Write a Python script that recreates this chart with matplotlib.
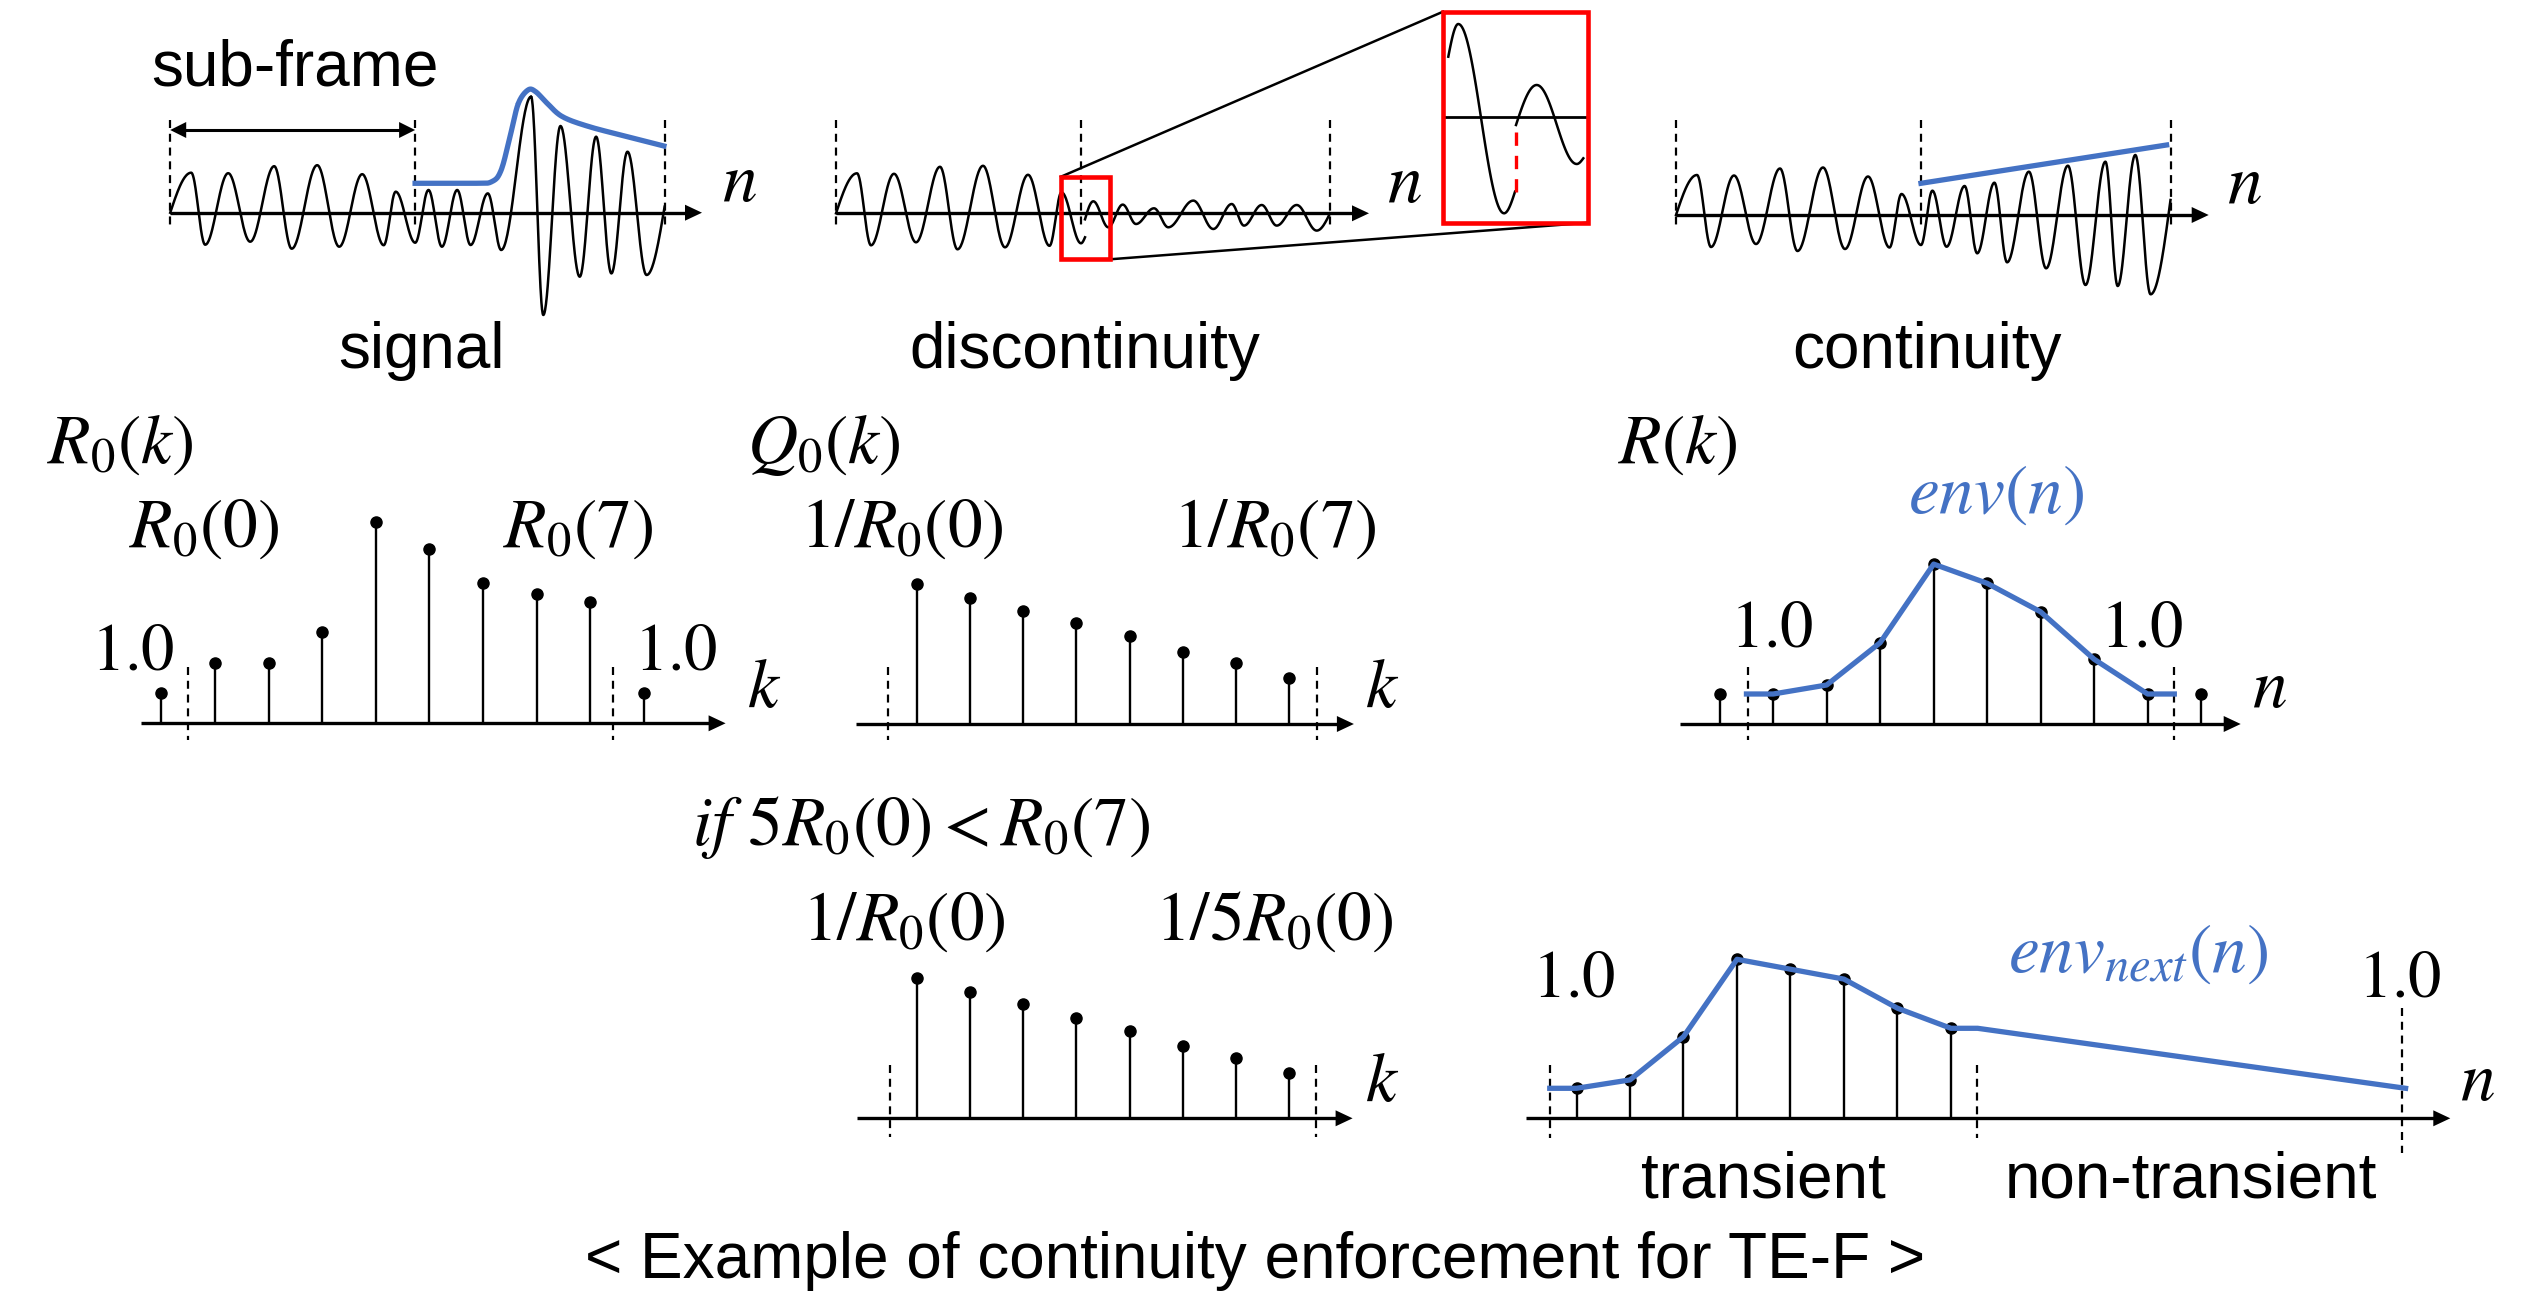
import numpy as np
import matplotlib
matplotlib.use('Agg')
import matplotlib.pyplot as plt
from matplotlib.patches import Rectangle, Polygon

plt.rcParams['mathtext.fontset'] = 'stix'
plt.rcParams['font.family'] = ['Liberation Sans', 'DejaVu Sans']

BLUE = '#4472C4'
RED = '#FF0000'

# ------------------------------------------------------------------ data
# waveform extrema: offset inside the frame, amplitude
wave_prev_t = [0, 21, 35, 58, 80, 104, 121.5, 147, 169, 192, 213.5, 225.5, 245]
wave_prev_a = [0, 40, -32, 39.5, -29, 46.5, -36, 47.5, -34, 38.5, -32.5, 21, -30]

sig_t = [258.3, 271.7, 287, 300.4, 317.6, 331, 360.9, 373.1, 390.3, 409.5, 425.9, 441.2, 457.3, 476.4, 494.4]
sig_a = [22.7, -34, 22.7, -32.3, 19.3, -37.3, 116, -102.3, 86.7, -64, 76, -60.7, 61, -62.3, 6]
sig_env_t = [244.9, 304.2, 321.5, 331, 340.6, 348.2, 357.8, 365.5, 377, 392.3, 419.1, 457.3, 493.7]
sig_env_a = [29.4, 29.4, 31, 42.7, 79.4, 109.4, 122.7, 121, 109.4, 96, 86, 76, 66.7]

disc_end_t, disc_end_a = 249, -24
disc_t = [249, 257.3, 272.3, 286.7, 300, 318, 332.3, 357.3, 377.3, 395.7, 408, 425.7, 440.7, 460.7, 480.7, 494]
disc_a = [-6, 12, -14, 8.7, -10.7, 5, -14, 12.7, -15.7, 9.3, -12.3, 8.3, -12.3, 8.3, -17.3, 0]

cont_t = [256.4, 270.6, 288.6, 301.2, 318.4, 331.1, 352.9, 370.1, 391.9, 409.5, 429.4, 441.7, 459.3, 474.6, 494.5]
cont_a = [24.3, -31.7, 29, -38.3, 32.3, -47.3, 43.3, -53.3, 49.3, -70, 53.3, -71, 60, -79.3, 15]
cont_env_t = [245, 490.6]
cont_env_a = [31.7, 70]

# magnified view of the discontinuity
zoom1_t = [5.3, 15.3, 61, 72]
zoom1_a = [60, 92.7, -96.6, -75]
zoom2_t = [73, 93.7, 133.7, 140.3]
zoom2_a = [-8.3, 31.7, -47.3, -41.6]

# stem values (1.0 = unit level)
r0_k = list(range(-1, 9))
r0_val = [1.0, 2.0, 2.0, 3.05, 6.7, 5.8, 4.67, 4.3, 4.05, 1.0]
q0_k = list(range(0, 8))
q0_val = [4.67, 4.21, 3.78, 3.36, 2.93, 2.41, 2.02, 1.52]
r_k = list(range(-1, 9))
r_val = [1.0, 1.0, 1.3, 2.71, 5.33, 4.69, 3.74, 2.16, 1.0, 1.0]
env_k = [-0.5, 0, 1, 2, 3, 4, 5, 6, 7, 7.5]
env_val = [1.0, 1.0, 1.3, 2.71, 5.33, 4.69, 3.74, 2.16, 1.0, 1.0]
q0b_val = [4.67, 4.2, 3.81, 3.33, 2.92, 2.41, 2.02, 1.5]
rn_k = list(range(0, 8))
rn_val = [1.0, 1.28, 2.72, 5.3, 4.97, 4.64, 3.67, 3.0]
envn_k = [-0.5, 0, 1, 2, 3, 4, 5, 6, 7, 7.5, 15.5]
envn_val = [1.0, 1.0, 1.28, 2.72, 5.3, 4.97, 4.64, 3.67, 3.0, 3.0, 1.0]

# ------------------------------------------------------------------ figure
fig = plt.figure(figsize=(25.44, 13.03), dpi=100)
ax = fig.add_axes([0, 0, 1, 1])
ax.set_xlim(0, 2544)
ax.set_ylim(1303, 0)
ax.axis('off')

UNIT = 30.0
SANS = 46
MATH = 50


def wave_curve(t, a, start_free=True, end_free=True, n=40):
    xs, ys = [], []
    m = len(t)
    for i in range(m - 1):
        s = np.linspace(0, 1, n)
        if i == 0 and start_free:
            f = np.sin(np.pi / 2 * s)
        elif i == m - 2 and end_free:
            f = 1 - np.cos(np.pi / 2 * s)
        else:
            f = (1 - np.cos(np.pi * s)) / 2
        xs.append(t[i] + (t[i + 1] - t[i]) * s)
        ys.append(a[i] + (a[i + 1] - a[i]) * f)
    return np.concatenate(xs), np.concatenate(ys)


def smooth_path(t, a, n=20):
    p = np.column_stack([t, a]).astype(float)
    p = np.vstack([p[0], p, p[-1]])
    out = []
    for i in range(1, len(p) - 2):
        p0, p1, p2, p3 = p[i - 1], p[i], p[i + 1], p[i + 2]
        s = np.linspace(0, 1, n)[:, None]
        out.append(0.5 * ((2 * p1) + (-p0 + p2) * s + (2 * p0 - 5 * p1 + 4 * p2 - p3) * s ** 2
                          + (-p0 + 3 * p1 - 3 * p2 + p3) * s ** 3))
    out = np.vstack(out)
    return out[:, 0], out[:, 1]


def arrow_h(x0, x1, y, lw=2.4, hl=17, hw=8, double=False):
    xs = x0 + (hl - 1 if double else 0)
    ax.plot([xs, x1 - hl + 1], [y, y], color='k', lw=lw, solid_capstyle='butt', zorder=3)
    ax.add_patch(Polygon([[x1, y], [x1 - hl, y - hw], [x1 - hl, y + hw]], closed=True,
                         facecolor='k', edgecolor='none', zorder=3))
    if double:
        ax.add_patch(Polygon([[x0, y], [x0 + hl, y - hw], [x0 + hl, y + hw]], closed=True,
                             facecolor='k', edgecolor='none', zorder=3))


def dashed(x, y0, y1):
    ax.plot([x, x], [y0, y1], color='k', lw=1.6, dashes=(3.6, 2.6), zorder=2)


def mtext(x, y, s, size=MATH, color='k'):
    ax.text(x, y, s, fontsize=size, color=color, ha='left', va='baseline')


def stems(k, vals, k0x, dx, axis_y):
    xs = k0x + np.asarray(k, float) * dx
    ys = axis_y - np.asarray(vals) * UNIT
    ml, sl, bl = ax.stem(xs, ys, bottom=axis_y, linefmt='k-', markerfmt='ko', basefmt=' ')
    sl.set_linewidth(1.7)
    sl.set_zorder(2)
    ml.set_markersize(8)
    ml.set_zorder(2)
    bl.set_visible(False)


# ------------------------------------------------------------------ top row: waveforms
# panel 1 : signal
L1, A1 = 170.2, 212.7
t, a = wave_curve(wave_prev_t + sig_t, wave_prev_a + sig_a)
ax.plot(L1 + t, A1 - a, color='k', lw=1.8, zorder=2)
t, a = smooth_path(sig_env_t, sig_env_a)
ax.plot(L1 + t, A1 - a, color=BLUE, lw=3.8, solid_joinstyle='round', zorder=4)
arrow_h(L1, 702, A1)
for x in [170.2, 415.1, 664.6]:
    dashed(x, 120, 229)
arrow_h(170.2, 415.1, 130, lw=2.2, hl=16, hw=8, double=True)
ax.text(295, 85, 'sub-frame', fontsize=SANS, ha='center', va='baseline')
mtext(722, 201, '$n$')
ax.text(421, 368, 'signal', fontsize=SANS, ha='center', va='baseline')

# panel 2 : discontinuity
L2, A2 = 836, 213.3
t, a = wave_curve(wave_prev_t + [disc_end_t], wave_prev_a + [disc_end_a])
ax.plot(L2 + t, A2 - a, color='k', lw=1.8, zorder=2)
t, a = wave_curve(disc_t, disc_a)
ax.plot(L2 + t, A2 - a, color='k', lw=1.8, zorder=2)
arrow_h(L2, 1369, A2)
for x in [836, 1080.7, 1330.3]:
    dashed(x, 120, 229)
mtext(1387, 201.7, '$n$')
ax.text(1085, 368, 'discontinuity', fontsize=SANS, ha='center', va='baseline')
# small box + magnified view
ax.add_patch(Rectangle((1061, 176.7), 49, 82.6, fill=False, edgecolor=RED, lw=3.3, zorder=5))
ax.add_patch(Rectangle((1443, 11.7), 145.3, 211, fill=False, edgecolor=RED, lw=3.3, zorder=5))
ax.plot([1061, 1443], [176.7, 11.7], color='k', lw=1.8, zorder=4)
ax.plot([1110, 1588.3], [259.3, 222.7], color='k', lw=1.8, zorder=4)
ZX, ZY = 1443, 116.7
ax.plot([1445, 1586.7], [ZY, ZY], color='k', lw=2.0, zorder=3)
t, a = wave_curve(zoom1_t, zoom1_a)
ax.plot(ZX + t, ZY - a, color='k', lw=1.8, zorder=3)
t, a = wave_curve(zoom2_t, zoom2_a)
ax.plot(ZX + t, ZY - a, color='k', lw=1.8, zorder=3)
ax.plot([ZX + 72.5, ZX + 72.5], [ZY + 75, ZY + 8.3], color=RED, lw=2.4,
        dashes=(4, 3), zorder=3)

# panel 3 : continuity
L3, A3 = 1676, 215
t, a = wave_curve(wave_prev_t + cont_t, wave_prev_a + cont_a)
ax.plot(L3 + t, A3 - a, color='k', lw=1.8, zorder=2)
ax.plot(L3 + np.array(cont_env_t), A3 - np.array(cont_env_a), color=BLUE, lw=3.8, zorder=4)
arrow_h(L3, 2208.7, A3)
for x in [1676, 1921, 2170.5]:
    dashed(x, 120, 229)
mtext(2227, 203, '$n$')
ax.text(1927, 368, 'continuity', fontsize=SANS, ha='center', va='baseline')

# ------------------------------------------------------------------ middle row: stems
# R0(k)
AY = 723.3
stems(r0_k, r0_val, 215, 53.6, AY)
arrow_h(140.5, 725.6, AY)
for x in [187.5, 613.1]:
    dashed(x, 666.7, 740)
mtext(47, 463, '$R_0(k)$')
mtext(129, 546.7, '$R_0(0)$')
mtext(502.6, 546.7, '$R_0(7)$')
mtext(90.6, 669, '$1.0$', size=48)
mtext(633.5, 669, '$1.0$', size=48)
mtext(747, 706.7, '$k$')

# Q0(k)
AY = 724
stems(q0_k, q0_val, 916.9, 53.19, AY)
arrow_h(856.2, 1353.9, AY)
for x in [888.3, 1317.3]:
    dashed(x, 666.7, 740)
mtext(746.8, 463, '$Q_0(k)$')
mtext(800.4, 546.7, '$1/R_0(0)$')
mtext(1173, 546.7, '$1/R_0(7)$')
mtext(1365, 706.7, '$k$')

# R(k) with env(n)
AY = 724
stems(r_k, r_val, 1773.2, 53.48, AY)
ax.plot(1773.2 + np.array(env_k) * 53.48, AY - np.array(env_val) * UNIT, color=BLUE, lw=3.8,
        solid_joinstyle='round', zorder=4)
arrow_h(1680.4, 2240.7, AY)
for x in [1748.3, 2173.8]:
    dashed(x, 666.7, 740)
mtext(1618, 463, '$R(k)$')
mtext(1908, 513, '$env(n)$', color=BLUE)
mtext(1729.6, 646.7, '$1.0$', size=48)
mtext(2100, 646.7, '$1.0$', size=48)
mtext(2252, 706.7, '$n$')

# ------------------------------------------------------------------ bottom row
mtext(692, 845, r'$if\ 5R_0(0) < R_0(7)$')
AY = 1118.3
stems(q0_k, q0b_val, 916.5, 53.26, AY)
arrow_h(856.8, 1352.6, AY)
for x in [889.8, 1315.9]:
    dashed(x, 1065, 1136.7)
mtext(801.7, 940, '$1/R_0(0)$')
mtext(1155, 940, '$1/5R_0(0)$')
mtext(1365, 1101, '$k$')

stems(rn_k, rn_val, 1576.5, 53.49, AY)
ax.plot(1576.5 + np.array(envn_k) * 53.49, AY - np.array(envn_val) * UNIT, color=BLUE, lw=3.8,
        solid_joinstyle='round', zorder=4)
arrow_h(1525.5, 2450.3, AY)
dashed(1549.7, 1065, 1138.3)
dashed(1977, 1065, 1138.3)
dashed(2402.4, 1008.3, 1153.3)
mtext(1531.9, 996.7, '$1.0$', size=48)
mtext(2357.8, 996.7, '$1.0$', size=48)
mtext(2008, 971.7, '$env_{next}(n)$', color=BLUE)
mtext(2460, 1100, '$n$')
ax.text(1763, 1198, 'transient', fontsize=SANS, ha='center', va='baseline')
ax.text(2191, 1198, 'non-transient', fontsize=SANS, ha='center', va='baseline')

ax.text(1255, 1278, '< Example of continuity enforcement for TE-F >', fontsize=SANS,
        ha='center', va='baseline')

fig.savefig('out.png', dpi=100)
